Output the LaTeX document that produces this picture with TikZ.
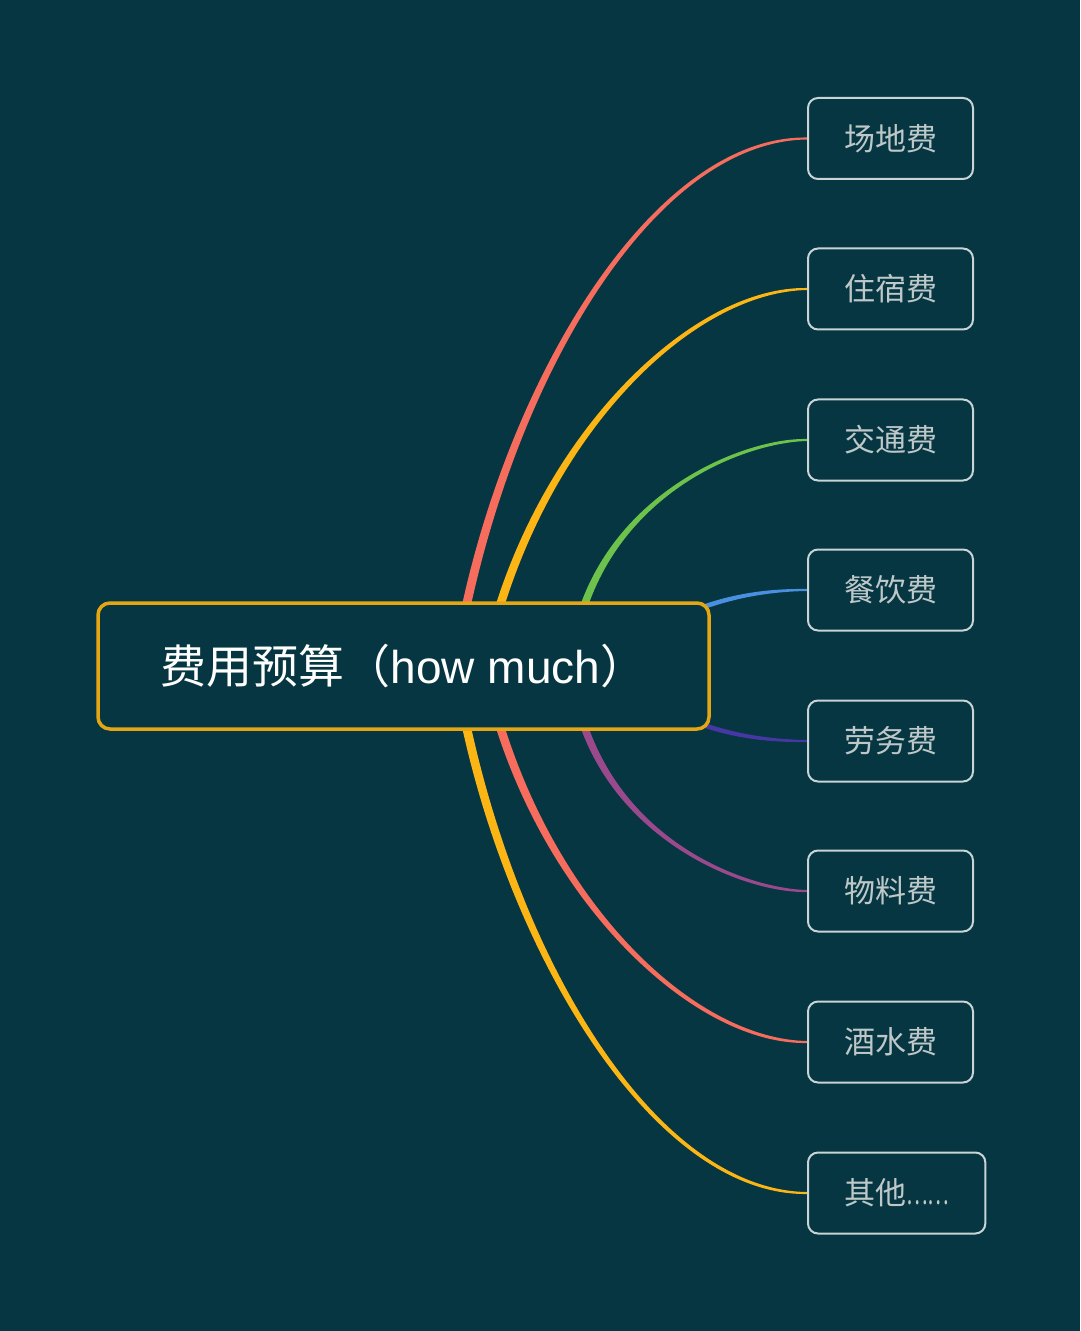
\documentclass[tikz,border=0pt]{standalone}
\usepackage{fontspec}
\setmainfont{Noto Sans CJK SC}
\newfontfamily\latinfont{Liberation Sans}
\usetikzlibrary{calc,backgrounds}

\definecolor{bgteal}{HTML}{053641}
\definecolor{hubgold}{HTML}{E5A614}
\definecolor{leafline}{HTML}{C8D4D6}
\definecolor{leaftext}{HTML}{BEC8C9}
\definecolor{branchred}{HTML}{F66C5D}
\definecolor{branchyellow}{HTML}{FBB515}
\definecolor{branchgreen}{HTML}{6CC24A}
\definecolor{branchblue}{HTML}{4A8FE0}
\definecolor{branchindigo}{HTML}{4637A5}
\definecolor{branchpurple}{HTML}{9A4A8C}

\begin{document}
\begin{tikzpicture}[
    x=0.5pt, y=-0.5pt,
    %framed,
    hub/.style={rectangle, rounded corners=6pt, draw=hubgold, line width=1.75pt, fill=bgteal, text=white,
        minimum width=305.5pt, minimum height=63pt, inner sep=0pt, font=\fontsize{23pt}{28pt}\selectfont},
    leaf/.style={rectangle, rounded corners=5pt, draw=leafline, line width=1pt, fill=bgteal, text=leaftext,
        minimum width=82pt, minimum height=40.5pt, inner xsep=18pt, inner ysep=0pt, anchor=west,
        font=\fontsize{15.5pt}{19pt}\selectfont}
    ]
    \useasboundingbox (0,0) rectangle (1080,1331);
\node[hub] (hub) at (403.5,666) {费用预算（{\latinfont how much}）};

\node[leaf] (c1) at (807,138.5) {场地费};
\node[leaf] (c2) at (807,289) {住宿费};
\node[leaf] (c3) at (807,440) {交通费};
\node[leaf] (c4) at (807,590) {餐饮费};
\node[leaf] (c5) at (807,741) {劳务费};
\node[leaf] (c6) at (807,891) {物料费};
\node[leaf] (c7) at (807,1042) {酒水费};
\node[leaf] (c8) at (807,1193) {其他\scalebox{0.66}[1]{……}};

% where the branches leave the hub (hidden under its border)
\coordinate (t1) at (465,612);
\coordinate (t2) at (498,612);
\coordinate (t3) at (582,612);
\coordinate (t4) at (690,612);
\coordinate (b1) at (465,720);
\coordinate (b2) at (498,720);
\coordinate (b3) at (582,720);
\coordinate (b4) at (690,720);

\begin{scope}[on background layer]
\fill[bgteal] (0,0) rectangle (1080,1331);
% upper branches
\fill[branchred] ($(t1)+(-4.5,0)$) .. controls +(52,-245) and +(-150,-2) .. ($(c1.west)+(0,-1)$)
    -- ($(c1.west)+(0,1)$) .. controls +(-150,2) and +(52,-245) .. ($(t1)+(4.5,0)$) -- cycle;
\fill[branchyellow] ($(t2)+(-4.5,0)$) .. controls +(58,-191) and +(-110,-2) .. ($(c2.west)+(0,-1)$)
    -- ($(c2.west)+(0,1)$) .. controls +(-110,2) and +(58,-191) .. ($(t2)+(4.5,0)$) -- cycle;
\fill[branchgreen] ($(t3)+(-4,0)$) .. controls +(40,-124) and +(-60,-1.5) .. ($(c3.west)+(0,-1)$)
    -- ($(c3.west)+(0,1)$) .. controls +(-60,1.5) and +(40,-124) .. ($(t3)+(4,0)$) -- cycle;
\fill[branchblue] ($(t4)+(0,-2.5)$) .. controls +(30,-12) and +(-50,-0.8) .. ($(c4.west)+(0,-1)$)
    -- ($(c4.west)+(0,1)$) .. controls +(-50,0.8) and +(30,-12) .. ($(t4)+(0,2.5)$) -- cycle;
% lower branches
\fill[branchindigo] ($(b4)+(0,2.5)$) .. controls +(30,12) and +(-50,0.8) .. ($(c5.west)+(0,1)$)
    -- ($(c5.west)+(0,-1)$) .. controls +(-50,-0.8) and +(30,12) .. ($(b4)+(0,-2.5)$) -- cycle;
\fill[branchpurple] ($(b3)+(-4,0)$) .. controls +(40,124) and +(-60,1.5) .. ($(c6.west)+(0,1)$)
    -- ($(c6.west)+(0,-1)$) .. controls +(-60,-1.5) and +(40,124) .. ($(b3)+(4,0)$) -- cycle;
\fill[branchred] ($(b2)+(-4.5,0)$) .. controls +(58,191) and +(-110,2) .. ($(c7.west)+(0,1)$)
    -- ($(c7.west)+(0,-1)$) .. controls +(-110,-2) and +(58,191) .. ($(b2)+(4.5,0)$) -- cycle;
\fill[branchyellow] ($(b1)+(-4.5,0)$) .. controls +(52,245) and +(-150,2) .. ($(c8.west)+(0,1)$)
    -- ($(c8.west)+(0,-1)$) .. controls +(-150,-2) and +(52,245) .. ($(b1)+(4.5,0)$) -- cycle;
\end{scope}
\end{tikzpicture}
\end{document}
